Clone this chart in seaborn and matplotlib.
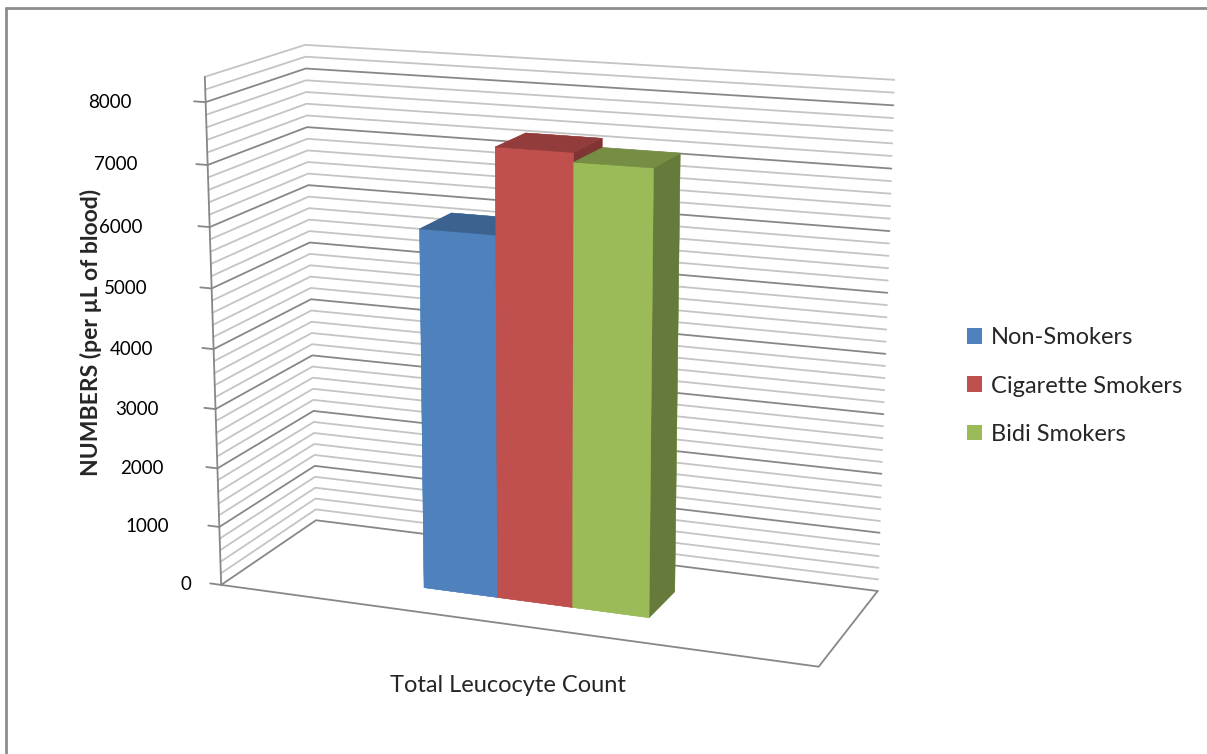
import numpy as np
import matplotlib
import matplotlib.pyplot as plt
import matplotlib.colors as mcolors
from matplotlib.patches import Patch
from matplotlib.lines import Line2D
from mpl_toolkits.mplot3d import proj3d
import seaborn as sns

# data
groups = ['Non-Smokers', 'Cigarette Smokers', 'Bidi Smokers']
counts = [6000, 7400, 7250]
category = 'Total Leucocyte Count'
tick_values = [0, 1000, 2000, 3000, 4000, 5000, 6000, 7000, 8000]
z_max = 8400
minor_step = 200
colors = ['#4F81BD', '#C0504D', '#9BBB59']

sns.set_theme(style='white')
plt.rcParams['font.family'] = ['Lato', 'DejaVu Sans']


def shade(c, f):
    r, g, b = mcolors.to_rgb(c)
    return (r * f, g * f, b * f)


fig = plt.figure(figsize=(12.07, 7.54), dpi=100)
ax = fig.add_axes([0.1334, 0.0364, 0.625, 1.0], projection='3d',
                  proj_type='persp', focal_length=0.67, computed_zorder=False)
ax.set_xlim(0, 1)
ax.set_ylim(0, 1)
ax.set_zlim(0, z_max)
ax.set_box_aspect((1, 0.353, 0.83), zoom=1.10)
ax.view_init(elev=14.7, azim=-69)
ax.set_axis_off()

## walls: side + back gridlines
for v in np.arange(0, z_max + 1, minor_step):
    major = v % 1000 == 0
    ax.plot([0, 0, 1], [0, 1, 1], [v, v, v],
            color='#878787' if major else '#c4c4c4', lw=1.3, zorder=1)

## floor outline + vertical axis
ax.plot([0, 1, 1], [0, 0, 1], [0, 0, 0], color='#878787', lw=1.3, zorder=1)
ax.plot([0, 0], [0, 0], [0, z_max], color='#878787', lw=1.3, zorder=2)
for v in tick_values:
    ax.plot([-0.02, 0], [0, 0], [v, v], color='#878787', lw=1.3, zorder=2)

## bars
n = len(counts)
bw = 0.128
xs = [0.312 + i * bw for i in range(n)]
ys = [0.30] * n
face_cols = []
for c in colors:
    # bottom, top, front, back, left, right
    face_cols += [c, shade(c, 0.76), c, c, c, shade(c, 0.66)]
ax.bar3d(xs, ys, [0] * n, bw, 0.36, counts, color=face_cols, shade=False,
         edgecolor=face_cols, linewidth=0.3, zorder=3)

## tick labels: project the axis points after a draw so positions are final
fig.canvas.draw()
for v in tick_values:
    px, py, _ = proj3d.proj_transform(0, 0, v, ax.M)
    X, Y = ax.transData.transform((px, py))
    # excel pushes the labels further out as they go up
    gap = 30 if v == 0 else 50 + (v - 1000) * 24 / 7000
    fx, fy = fig.transFigure.inverted().transform((X - gap, Y))
    fig.text(fx, fy, str(v), ha='right', va='center', fontsize=13.5, color='black')

## labels
fig.text(91 / 1207, 1 - 332 / 754, 'NUMBERS (per µL of blood)', rotation=90,
         ha='center', va='center', fontsize=16.5, fontweight='bold')
fig.text(508 / 1207, 1 - 686 / 754, category, ha='center', va='center', fontsize=17)

handles = [Patch(facecolor=c, edgecolor='none') for c in colors]
fig.legend(handles, groups, loc='center left', bbox_to_anchor=(946 / 1207, 1 - 386 / 754),
           frameon=False, fontsize=17, handlelength=0.64, handleheight=0.64,
           handletextpad=0.38, labelspacing=1.15)

fig.add_artist(Line2D([6 / 1207, 6 / 1207], [0, 1 - 8 / 754], transform=fig.transFigure,
                      color='#8c8c8c', lw=2))
fig.add_artist(Line2D([6 / 1207, 1], [1 - 8 / 754, 1 - 8 / 754], transform=fig.transFigure,
                      color='#8c8c8c', lw=2))

fig.savefig('out.png', dpi=100)
